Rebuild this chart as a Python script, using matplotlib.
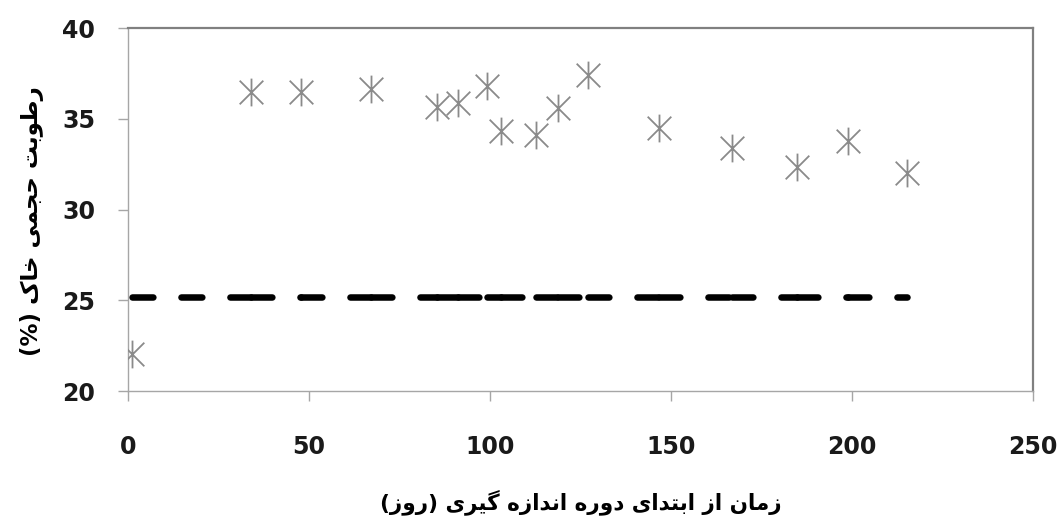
import matplotlib
matplotlib.use("Agg")
import matplotlib.pyplot as plt
from matplotlib.path import Path

# days since start of measurement period
days = [1.0, 33.9, 47.8, 67.0, 85.3, 91.2, 99.1, 103.0, 112.7, 118.9, 127.2,
        146.8, 166.8, 184.7, 198.8, 215.1]
# soil volumetric moisture (%)
moisture = [22.04, 36.46, 36.46, 36.62, 35.66, 35.85, 36.80, 34.34, 34.10, 35.58,
            37.41, 34.47, 33.37, 32.36, 33.77, 32.03]
threshold = 25.2

x_ticks = [0, 50, 100, 150, 200, 250]
y_ticks = [20, 25, 30, 35, 40]

xlabel_text = "زمان از ابتدای دوره اندازه گیری (روز)"
ylabel_text = "رطوبت حجمی خاک (%)"

# arabic presentation forms: isolated, final, initial, medial
FORMS = {
    "ا": "\uFE8D\uFE8E",
    "ب": "\uFE8F\uFE90\uFE91\uFE92",
    "ت": "\uFE95\uFE96\uFE97\uFE98",
    "ج": "\uFE9D\uFE9E\uFE9F\uFEA0",
    "ح": "\uFEA1\uFEA2\uFEA3\uFEA4",
    "خ": "\uFEA5\uFEA6\uFEA7\uFEA8",
    "د": "\uFEA9\uFEAA",
    "ر": "\uFEAD\uFEAE",
    "ز": "\uFEAF\uFEB0",
    "ط": "\uFEC1\uFEC2\uFEC3\uFEC4",
    "م": "\uFEE1\uFEE2\uFEE3\uFEE4",
    "ن": "\uFEE5\uFEE6\uFEE7\uFEE8",
    "ه": "\uFEE9\uFEEA\uFEEB\uFEEC",
    "و": "\uFEED\uFEEE",
    "ی": "\uFBFC\uFBFD\uFBFE\uFBFF",
    "ک": "\uFB8E\uFB8F\uFB90\uFB91",
    "گ": "\uFB92\uFB93\uFB94\uFB95",
}
MIRROR = {"(": ")", ")": "("}


def shape(text):
    out = []
    for i, ch in enumerate(text):
        if ch not in FORMS:
            out.append(MIRROR.get(ch, ch))
            continue
        prev = text[i - 1] if i > 0 else None
        nxt = text[i + 1] if i + 1 < len(text) else None
        forms = FORMS[ch]
        join_prev = prev in FORMS and len(FORMS[prev]) == 4
        join_next = nxt in FORMS and len(forms) == 4
        if join_prev and join_next:
            out.append(forms[3])
        elif join_prev:
            out.append(forms[1])
        elif join_next:
            out.append(forms[2])
        else:
            out.append(forms[0])
    return "".join(reversed(out))


# excel style star marker: vertical bar + X
star = Path([(0, -1), (0, 1), (-0.85, -0.85), (0.85, 0.85), (-0.85, 0.85), (0.85, -0.85)],
            [Path.MOVETO, Path.LINETO, Path.MOVETO, Path.LINETO, Path.MOVETO, Path.LINETO])

fig = plt.figure(figsize=(10.61, 5.24), dpi=100)
ax = fig.add_axes([0.1206, 0.2538, 0.853, 0.6927])

# dashed line drawn segment by segment (dash pattern restarts at each point)
for i in range(len(days) - 1):
    ax.plot(days[i:i + 2], [threshold, threshold], color="black", lw=4.7,
            dashes=(3.2, 4.3), dash_capstyle="round", solid_capstyle="round", zorder=2)

ax.plot(days, moisture, linestyle="none", marker=star, markersize=20,
        markeredgecolor="#8a8a8a", markerfacecolor="none", markeredgewidth=1.3, zorder=3)

ax.set_xlim(0, 250)
ax.set_ylim(20, 40)
ax.set_xticks(x_ticks)
ax.set_yticks(y_ticks)

for s in ["left", "bottom"]:
    ax.spines[s].set_color("#a6a6a6")
    ax.spines[s].set_linewidth(1)
for s in ["top", "right"]:
    ax.spines[s].set_color("#808080")
    ax.spines[s].set_linewidth(1.6)

ax.tick_params(axis="y", direction="out", length=7, width=1, color="#a6a6a6", pad=16.5)
ax.tick_params(axis="x", direction="out", length=7.5, width=1, color="#a6a6a6", pad=24)
for lab in ax.get_xticklabels() + ax.get_yticklabels():
    lab.set_fontsize(17)
    lab.set_fontweight("bold")
    lab.set_color("#1a1a1a")

ax.set_xlabel(shape(xlabel_text), fontsize=15.5, fontweight="bold", family="DejaVu Sans")
ax.xaxis.label.set_va("center")
ax.xaxis.set_label_coords(0.5, -0.306)
ax.set_ylabel(shape(ylabel_text), fontsize=16.5, fontweight="bold", family="DejaVu Sans")
ax.yaxis.label.set_va("center")
ax.yaxis.set_label_coords(-0.106, 0.468)

fig.savefig("out.png", dpi=100)
